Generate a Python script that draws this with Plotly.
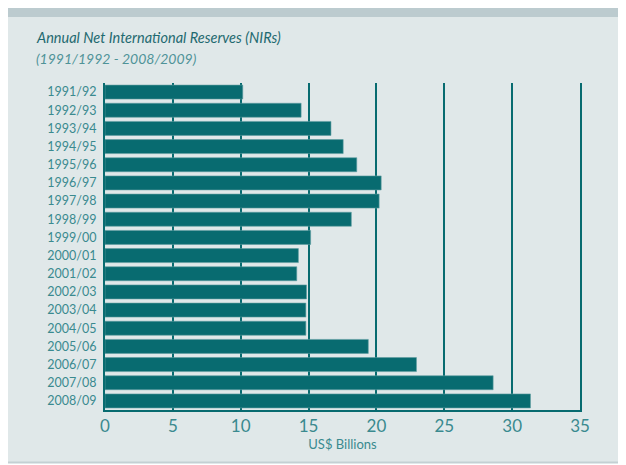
import plotly.graph_objects as go

years = [
    "1991/92", "1992/93", "1993/94", "1994/95", "1995/96", "1996/97",
    "1997/98", "1998/99", "1999/00", "2000/01", "2001/02", "2002/03",
    "2003/04", "2004/05", "2005/06", "2006/07", "2007/08", "2008/09",
]
nir_billions = [
    10.15, 14.45, 16.65, 17.55, 18.55, 20.35,
    20.2, 18.15, 15.15, 14.25, 14.13, 14.85,
    14.8, 14.8, 19.4, 22.95, 28.6, 31.35,
]
x_ticks = [0, 5, 10, 15, 20, 25, 30, 35]

TEAL = "#086b70"
TEXT = "#3a8a8f"
PANEL = "#e0e8e9"
BAND = "#bccbcf"
FONT = "Lato"

# the page adds an 8px body margin, so the figure is drawn 8px smaller
W, H = 618, 457
L, R, T, B = 97, 46, 75, 55
PW, PH = W - L - R, H - T - B


def px_x(p):
    return (p - L) / PW


def px_y(p):
    return (H - B - p) / PH


fig = go.Figure(
    go.Bar(
        x=nir_billions,
        y=years,
        orientation="h",
        marker=dict(color=TEAL, line=dict(color="#5f9ea1", width=0.6)),
        hoverinfo="x+y",
    )
)

fig.update_layout(
    width=W,
    height=H,
    margin=dict(l=L, r=R, t=T, b=B),
    paper_bgcolor=PANEL,
    plot_bgcolor=PANEL,
    bargap=0.23,
    showlegend=False,
    font=dict(family=FONT, color=TEXT),
    shapes=[
        # grey band at the top, white strip and rule at the bottom
        dict(type="rect", xref="paper", yref="paper", layer="below",
             x0=px_x(-5), x1=px_x(W + 5), y0=px_y(9), y1=px_y(-5),
             fillcolor=BAND, line_width=0),
        dict(type="rect", xref="paper", yref="paper", layer="below",
             x0=px_x(-5), x1=px_x(W + 5), y0=px_y(H + 5), y1=px_y(455),
             fillcolor="white", line_width=0),
        dict(type="line", xref="paper", yref="paper", layer="below",
             x0=px_x(-5), x1=px_x(W + 5), y0=px_y(454.5), y1=px_y(454.5),
             line=dict(color="#c3d0d3", width=2)),
    ],
    annotations=[
        dict(text="<i>Annual Net International Reserves (NIRs)</i>",
             xref="paper", yref="paper", x=px_x(26), y=px_y(30),
             xanchor="left", yanchor="middle", showarrow=False,
             font=dict(size=14.5, color="#1f6a70", family=FONT)),
        dict(text="<i>(1991/1992 - 2008/2009)</i>",
             xref="paper", yref="paper", x=px_x(26), y=px_y(50),
             xanchor="left", yanchor="middle", showarrow=False,
             font=dict(size=14, color="#4f9398", family=FONT)),
    ],
)

fig.update_xaxes(
    range=[0, 35],
    tickvals=x_ticks,
    automargin=False,
    showgrid=True,
    gridcolor=TEAL,
    gridwidth=1.5,
    showline=True,
    linecolor=TEAL,
    linewidth=2,
    zeroline=False,
    ticks="",
    tickfont=dict(size=17, color=TEXT),
    title=dict(text="US$ Billions", font=dict(size=13, color=TEXT), standoff=2),
)
fig.update_yaxes(
    autorange="reversed",
    automargin=False,
    showgrid=False,
    showline=True,
    mirror=True,
    linecolor=TEAL,
    linewidth=2,
    ticks="",
    ticklabelstandoff=4,
    tickfont=dict(size=12.5, color=TEXT),
)

fig.write_html("out.html")
